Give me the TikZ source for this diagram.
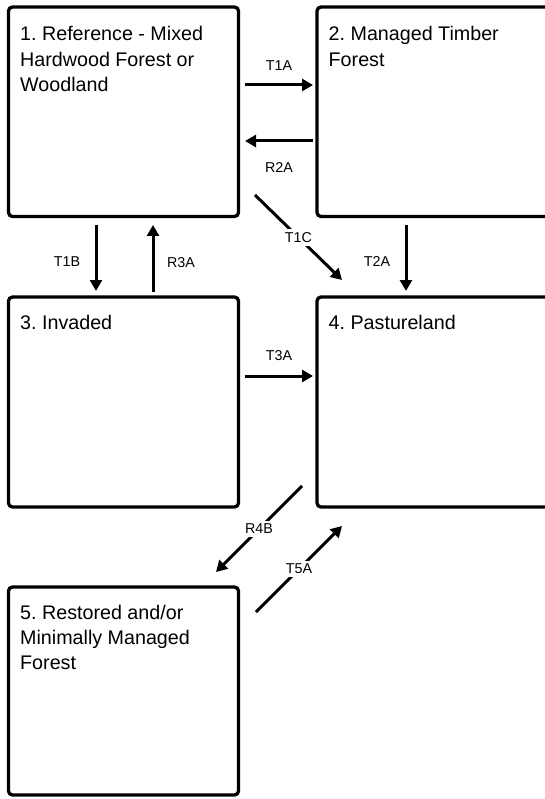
\documentclass[tikz,border=0pt]{standalone}
\usepackage{fontspec}
\setmainfont{Liberation Sans}
\usetikzlibrary{arrows.meta}
\frenchspacing
\begin{document}
\begin{tikzpicture}[x=1pt,y=-1pt,
  box/.style={draw, line width=3.3pt, rounded corners=4pt, outer sep=0pt, inner sep=0pt, anchor=north west},
  boxtext/.style={anchor=base west, align=left, inner sep=0pt, font=\fontsize{19.7}{25.3}\selectfont},
  arr/.style={line width=3pt, -{Triangle[length=11pt,width=12pt]}},
  lab/.style={font=\fontsize{14.3}{16}\selectfont, inner sep=1pt},
  cut/.style={font=\fontsize{14.3}{16}\selectfont, fill=white, inner sep=3pt}
  ]
\useasboundingbox (0,0) rectangle (545,799);
\fill[white] (0,0) rectangle (545,799);
% boxes
\node[box, minimum width=230pt, minimum height=209.5pt] (b1) at (8.5,7) {};
\node[box, minimum width=250pt, minimum height=209.5pt] (b2) at (317,7) {};
\node[box, minimum width=230pt, minimum height=210pt] (b3) at (8.5,297) {};
\node[box, minimum width=250pt, minimum height=210pt] (b4) at (317,297) {};
\node[box, minimum width=230pt, minimum height=208pt] (b5) at (8.5,587) {};
% texts (base anchor = baseline of last line)
\node[boxtext] (t1) at ([xshift=11.5pt,yshift=-84.6pt]b1.north west) {1. Reference - Mixed\\Hardwood Forest or\\Woodland};
\node[boxtext] (t2) at ([xshift=11.5pt,yshift=-59.3pt]b2.north west) {2. Managed Timber\\Forest};
\node[boxtext] (t3) at ([xshift=11.5pt,yshift=-32pt]b3.north west) {3. Invaded};
\node[boxtext] (t4) at ([xshift=11.5pt,yshift=-32pt]b4.north west) {4. Pastureland};
\node[boxtext] (t5) at ([xshift=11.5pt,yshift=-82.6pt]b5.north west) {5. Restored and/or\\Minimally Managed\\Forest};
% straight connectors
\draw[arr] ([xshift=6.5pt,yshift=-78pt]b1.north east) -- ([xshift=-4pt,yshift=-78pt]b2.north west)
  node[lab, midway, yshift=19pt] (l1) {T1A};
\draw[arr] ([xshift=-4pt,yshift=-134pt]b2.north west) -- ([xshift=6.5pt,yshift=-134pt]b1.north east)
  node[lab, midway, yshift=-27pt] (l2) {R2A};
\draw[arr] ([xshift=87.5pt,yshift=-8.5pt]b1.south west) -- ([xshift=87.5pt,yshift=6pt]b3.north west)
  node[lab, midway, xshift=-29pt, yshift=-4pt] (l3) {T1B};
\draw[arr] ([xshift=144.5pt,yshift=5pt]b3.north west) -- ([xshift=144.5pt,yshift=-8.5pt]b1.south west)
  node[lab, midway, xshift=28pt, yshift=-4pt] (l4) {R3A};
\draw[arr] ([xshift=89pt,yshift=-8.5pt]b2.south west) -- ([xshift=89pt,yshift=6pt]b4.north west)
  node[lab, midway, xshift=-29pt, yshift=-4pt] (l5) {T2A};
\draw[arr] ([xshift=6.5pt,yshift=-79pt]b3.north east) -- ([xshift=-4pt,yshift=-79pt]b4.north west)
  node[lab, midway, yshift=20pt] (l6) {T3A};
% diagonal connectors
\draw[arr] ([xshift=16.5pt,yshift=21.5pt]b1.south east) -- ([xshift=25pt,yshift=17pt]b4.north west)
  node[cut, pos=0.5] (l7) {T1C};
\draw[arr] ([xshift=-15pt,yshift=21pt]b4.south west) -- ([xshift=-22.5pt,yshift=15pt]b5.north east)
  node[cut, pos=0.5] (l8) {R4B};
\draw[arr] ([xshift=17.5pt,yshift=-25pt]b5.north east) -- ([xshift=25pt,yshift=-19pt]b4.south west)
  node[cut, pos=0.5] (l9) {T5A};
\end{tikzpicture}
\end{document}
